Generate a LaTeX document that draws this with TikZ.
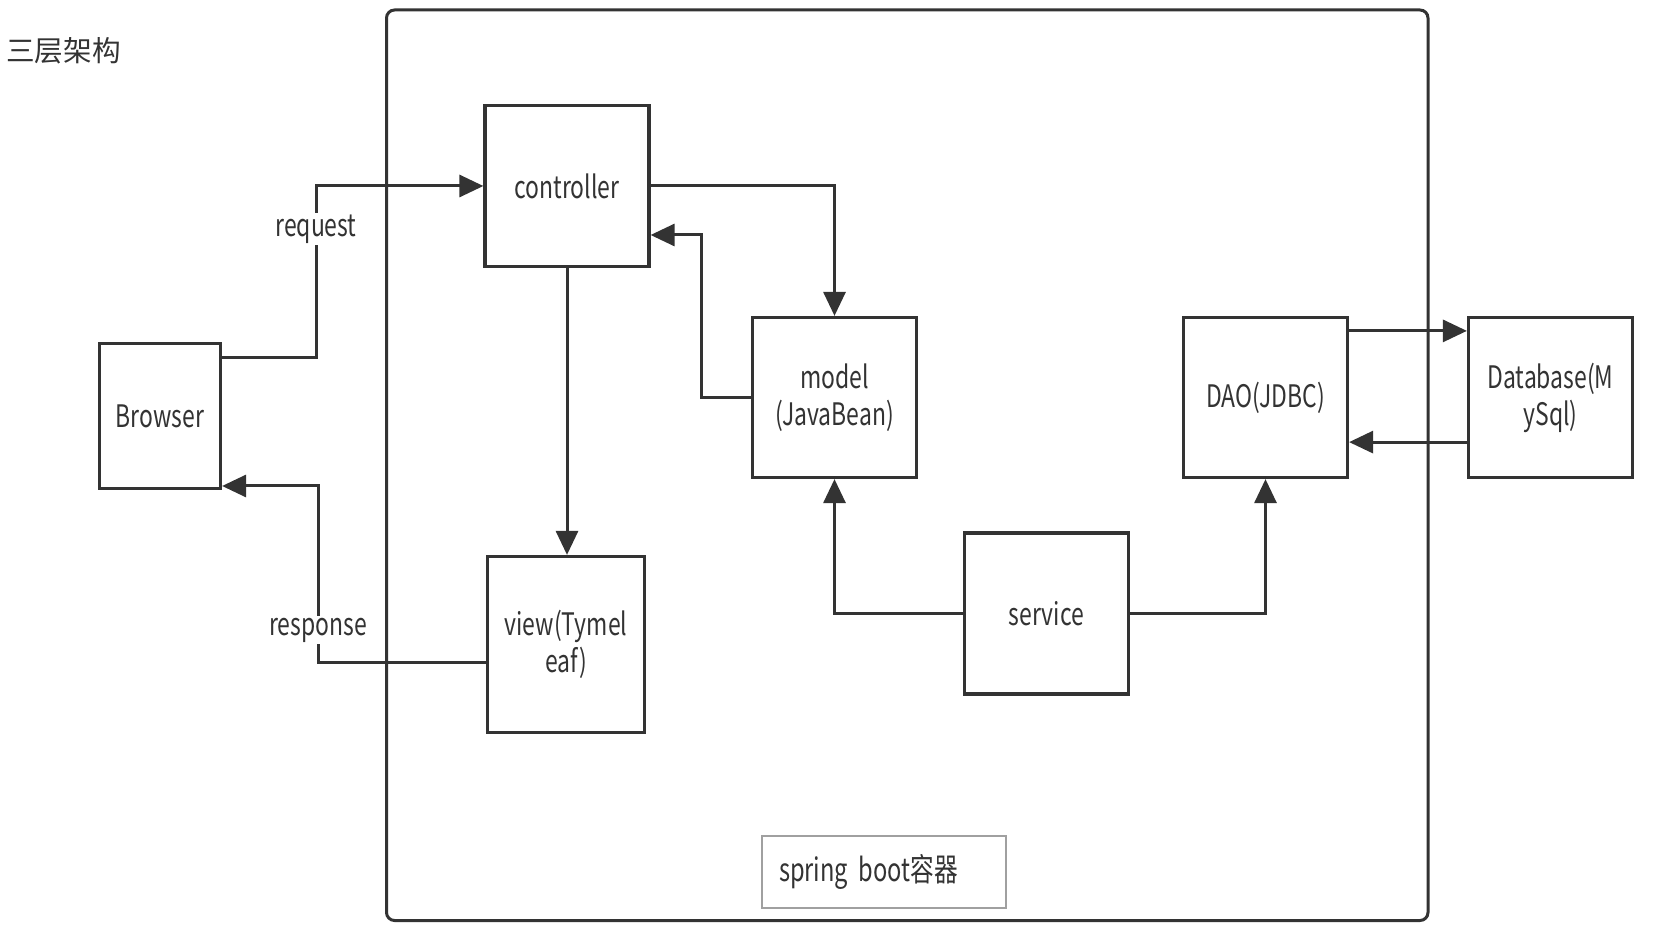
\documentclass[tikz,border=0pt]{standalone}
\usepackage{fontspec}
\setmainfont{Noto Sans CJK SC}[FakeStretch=0.74]
\newfontfamily\cjk{Noto Sans CJK SC}
\usepackage{tikz}
\usetikzlibrary{arrows.meta,positioning,calc}

\definecolor{ink}{HTML}{333333}
\definecolor{edge}{HTML}{A0A0A0}

\tikzset{
  box/.style={draw=ink,line width=1.6pt,text=ink,align=center,inner sep=0pt,
    minimum width=82pt,minimum height=80pt,font=\fontsize{15.5}{18.5}\selectfont},
  arr/.style={draw=ink,line width=1.5pt,-{Triangle[length=12pt,width=11pt]}},
  lbl/.style={fill=white,text=ink,inner sep=1pt,font=\fontsize{15.5}{18}\selectfont},
  frame/.style={draw=ink,line width=1.5pt,rounded corners=4pt,
    minimum width=520.75pt,minimum height=455.25pt,inner sep=0pt},
  tag/.style={draw=edge,line width=0.75pt,text=ink,align=left,inner xsep=8.5pt,
    inner ysep=0pt,text width=105pt,minimum height=36pt,font=\fontsize{16}{18}\selectfont}
}

\begin{document}
\begin{tikzpicture}[x=0.5pt,y=-0.5pt]

      \useasboundingbox (0,0) rectangle (1677,951);

      % container
      \node[frame] (boot) at (907.25,465.25) {};
      \node[tag] (tag) at (884,872) {spring boot容器};

      \node[anchor=west,inner sep=0pt,text=ink,font=\cjk\fontsize{14.3}{14}\selectfont]
        (title) at (6,51) {三层架构};

      % boxes
      \node[box,minimum width=60.5pt,minimum height=72.5pt] (brow) at (160,416) {Browser};
      \node[box,minimum height=80.5pt] (ctrl) at (567,186) {controller};
      \node[box] (model) at (834.5,397.5) {model\\(JavaBean)};
      \node[box,minimum width=78.5pt,minimum height=88pt] (view) at (566,644.5) {view(Tymel\\eaf)};
      \node[box,minimum height=80.5pt] (serv) at (1046.5,613.5) {service};
      \node[box] (dao) at (1265.5,397.5) {DAO(JDBC)};
      \node[box] (db) at (1550.5,397.5) {Database(M\\ySql)};

      % bends
      \coordinate (rq) at (316,186);
      \coordinate (rs) at (318,486);
      \coordinate (mc) at (701,235);

      % connectors
      \draw[arr] ([yshift=-8pt]brow.north east) -| node[lbl,pos=0.875] {request} (rq) -- (ctrl.west);
      \draw[arr] ([yshift=-9.25pt]view.west) -| node[lbl,pos=0.593] {response} (rs) -- (rs -| brow.east);
      \draw[arr] (ctrl.east) -| (model.north);
      \draw[arr] (model.west) -| (mc) -- (mc -| ctrl.east);
      \draw[arr] (ctrl.south) -- (ctrl.south |- view.north);
      \draw[arr] (serv.west) -| (model.south);
      \draw[arr] (serv.east) -| (dao.south);
      \draw[arr] ([yshift=-7.5pt]dao.north east) -- ([yshift=-7.5pt]db.north west);
      \draw[arr] ([yshift=18.5pt]db.south west) -- ([yshift=18.5pt]dao.south east);

    \end{tikzpicture}
\end{document}
